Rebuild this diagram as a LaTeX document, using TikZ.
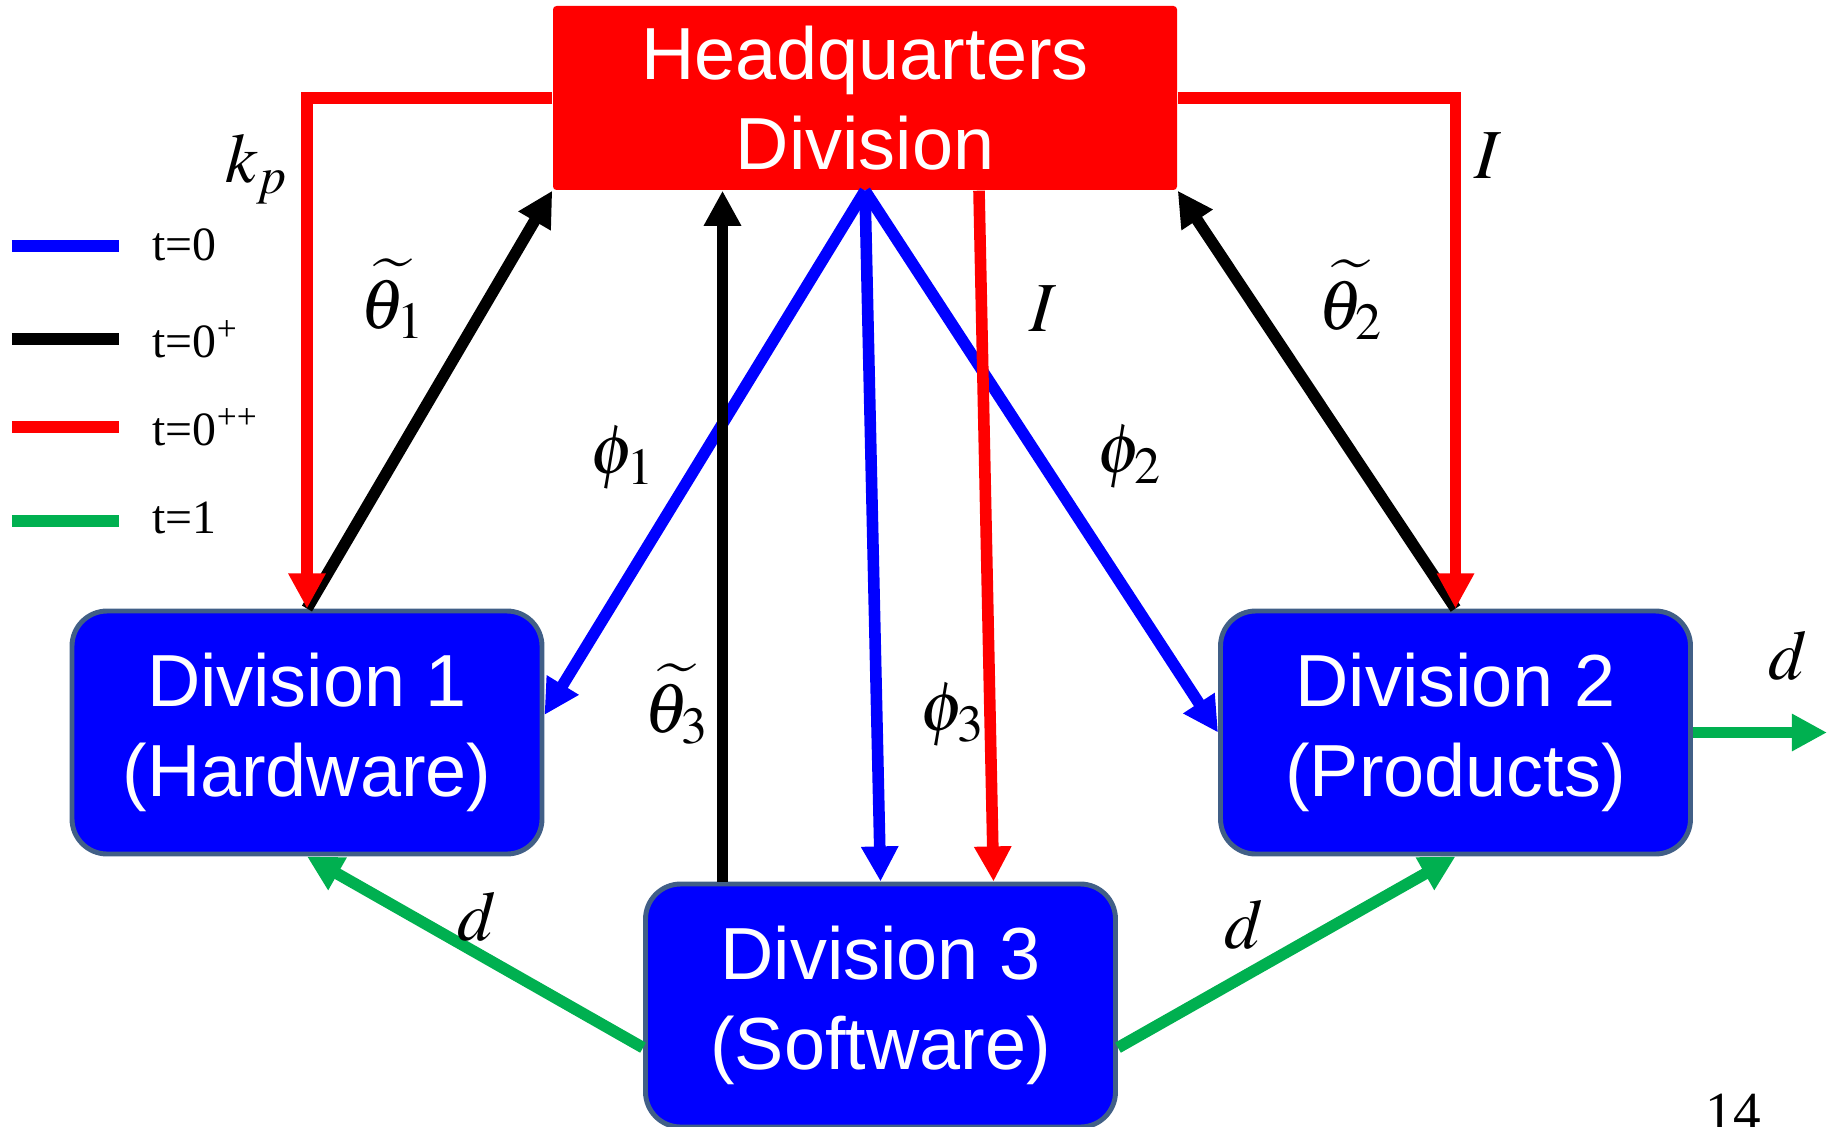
\documentclass[tikz,border=0pt]{standalone}
\usepackage{mathptmx}
\usepackage{fontspec}
\setmainfont{Liberation Serif}
\newfontfamily\boxfont{Liberation Sans}
\usetikzlibrary{calc,arrows.meta,positioning}
\definecolor{divBlue}{RGB}{0,0,255}
\definecolor{divEdge}{RGB}{65,95,135}
\definecolor{hqRed}{RGB}{255,0,0}
\definecolor{flowGreen}{RGB}{0,176,80}

\begin{document}
\begin{tikzpicture}[x=1cm,y=-1cm,
  divbox/.style={draw=divEdge, line width=1.4pt, fill=divBlue, rounded corners=10pt,
    text=white, align=center, minimum width=4.7cm, minimum height=2.43cm,
    font=\boxfont\fontsize{21}{25.6}\selectfont},
  hqbox/.style={fill=hqRed, rounded corners=1pt, text=white, align=center,
    minimum width=6.24cm, minimum height=1.84cm,
    font=\boxfont\fontsize{21}{25.6}\selectfont},
  flow/.style={line width=3.3pt, -{Triangle[length=10pt,width=10pt]}},
  legline/.style={line width=3.4pt},
  legtext/.style={anchor=west, inner sep=0pt, font=\fontsize{13.6}{16}\selectfont},
  lbl/.style={inner sep=0pt, font=\fontsize{20}{24}\selectfont}]
\useasboundingbox (0,0) rectangle (18.31,11.26);
% boxes
\node[hqbox] (hq) at (8.65,0.98) {Headquarters\\Division};
\node[divbox] (div1) at (3.07,7.325) {\raisebox{-2pt}{Division 1}\\\raisebox{-2pt}{(Hardware)}};
\node[divbox] (div2) at (14.555,7.325) {\raisebox{-2pt}{Division 2}\\\raisebox{-2pt}{(Products)}};
\node[divbox] (div3) at (8.805,10.055) {\raisebox{-2pt}{Division 3}\\\raisebox{-2pt}{(Software)}};
% t=0
\draw[flow,divBlue] (hq.south) -- ([yshift=5pt]div1.east);
\draw[flow,divBlue] (hq.south) -- (div2.west);
\draw[flow,divBlue] (hq.south) -- (div3.north);
% t=0+
\draw[flow] (div1.north) -- (hq.south west);
\draw[flow] (div2.north) -- (hq.south east);
\coordinate (t3) at ($(div3.north)+(-1.58,0)$);
\draw[flow] (t3) -- (t3 |- hq.south);
% t=0++
\draw[flow,hqRed] (hq.west) -| (div1.north);
\draw[flow,hqRed] (hq.east) -| (div2.north);
\coordinate (i3a) at ($(hq.south)+(1.14,0)$);
\coordinate (i3b) at ($(div3.north)+(1.13,0)$);
\draw[flow,hqRed] (i3a) -- (i3b);
% t=1
\draw[flow,flowGreen] ([yshift=-12pt]div3.west) -- (div1.south);
\draw[flow,flowGreen] ([yshift=-12pt]div3.east) -- (div2.south);
\coordinate (out) at ($(div2.east)+(1.34,0)$);
\draw[flow,flowGreen] (div2.east) -- (out);
% labels
\node[lbl] (kp) at (2.57,1.69) {$k_p$};
\node[lbl] (th1) at (3.93,2.99) {$\widetilde{\theta_1}$};
\node[lbl] (ph1) at (6.23,4.58) {$\phi_1$};
\node[lbl] (th3) at (6.77,7.04) {$\widetilde{\theta_3}$};
\node[lbl] (ph3) at (9.53,7.15) {$\phi_3$};
\node[lbl] (imid) at (10.43,3.09) {$I$};
\node[lbl] (ph2) at (11.30,4.57) {$\phi_2$};
\node[lbl] (th2) at (13.51,3.00) {$\widetilde{\theta_2}$};
\node[lbl] (iright) at (14.88,1.56) {$I$};
\node[lbl] (dleft) at (4.77,9.17) {$d$};
\node[lbl] (dright) at (12.44,9.25) {$d$};
\node[lbl] (dout) at (17.88,6.56) {$d$};
% legend
\draw[legline,divBlue] (0.12,2.46) -- (1.19,2.46);
\draw[legline,black] (0.12,3.39) -- (1.19,3.39);
\draw[legline,hqRed] (0.12,4.27) -- (1.19,4.27);
\draw[legline,flowGreen] (0.12,5.21) -- (1.19,5.21);
\node[legtext] (leg0) at (1.52,2.45) {t=0};
\node[legtext] (leg1) at (1.52,3.39) {t=0\textsuperscript{+}};
\node[legtext] (leg2) at (1.52,4.27) {t=0\textsuperscript{++}};
\node[legtext] (leg3) at (1.52,5.18) {t=1};
% page number
\node[anchor=base, inner sep=0pt, font=\fontsize{15.7}{18}\selectfont] (pgno) at (17.33,11.30) {14};
\end{tikzpicture}
\end{document}
